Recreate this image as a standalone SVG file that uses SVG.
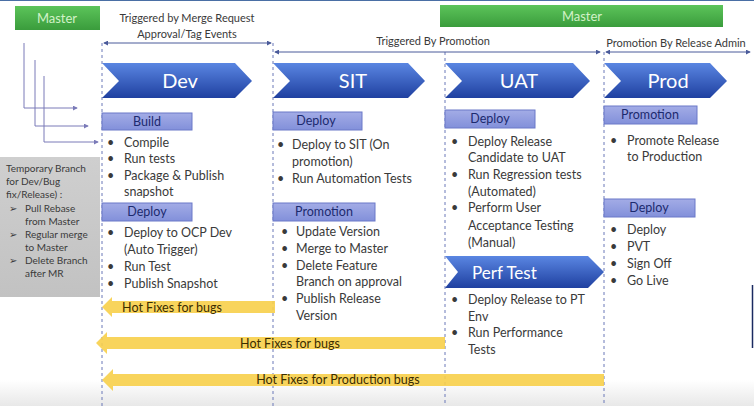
<svg xmlns="http://www.w3.org/2000/svg" width="754" height="406" viewBox="0 0 754 406">
<defs>
<linearGradient id="gBlue" x1="0" y1="0" x2="0" y2="1"><stop offset="0" stop-color="#5a86e2"/><stop offset="1" stop-color="#1f40a0"/></linearGradient>
<linearGradient id="gGreen" x1="0" y1="0" x2="0" y2="1"><stop offset="0" stop-color="#5cc45a"/><stop offset="1" stop-color="#3a9c3c"/></linearGradient>
<linearGradient id="gHead" x1="0" y1="0" x2="0" y2="1"><stop offset="0" stop-color="#a3ace6"/><stop offset="1" stop-color="#8290da"/></linearGradient>
<linearGradient id="gGrey" x1="0" y1="0" x2="0" y2="1"><stop offset="0" stop-color="#cfcfcf"/><stop offset="1" stop-color="#c2c2c2"/></linearGradient>
<linearGradient id="gBottom" x1="0" y1="0" x2="0" y2="1"><stop offset="0" stop-color="#ffffff"/><stop offset="1" stop-color="#e8e8e8"/></linearGradient>
<marker id="ah" viewBox="0 0 6 6" refX="5" refY="3" markerWidth="5" markerHeight="5" orient="auto-start-reverse"><path d="M0,0 L6,3 L0,6 z" fill="#4a5a9a"/></marker>
<marker id="ahp" viewBox="0 0 6 6" refX="5" refY="3" markerWidth="5" markerHeight="5" orient="auto"><path d="M0,0 L6,3 L0,6 z" fill="#7a7ab8"/></marker>
</defs>
<style>
text{font-family:Lato,"Liberation Sans",sans-serif;}
.t{font-size:12.5px;fill:#3a3a3a;}
.ts{font-size:10px;fill:#3a3a3a;}
.hd{font-size:12.5px;fill:#1c2a6e;text-anchor:middle;}
.hbox{fill:url(#gHead);stroke:#6a78c8;stroke-width:1;}
.chev{fill:url(#gBlue);}
.ct{font-size:20px;fill:#ffffff;text-anchor:middle;}
.vl{stroke:#6a78b8;stroke-width:1;stroke-dasharray:3,3;fill:none;}
.hl{stroke:#4a5a9a;stroke-width:1;fill:none;}
.pl{stroke:#7a7ab8;stroke-width:1;fill:none;}
.yarr{fill:#f7cf4a;opacity:0.9;}
.yt{font-size:12.5px;fill:#3a2c00;text-anchor:middle;}
.mt{font-size:13px;fill:#d2f2c8;text-anchor:middle;}
.top{font-size:11px;fill:#3a3a3a;text-anchor:middle;}
</style>
<rect x="0" y="0" width="754" height="406" fill="#ffffff"/>
<rect x="0" y="380" width="754" height="26" fill="url(#gBottom)"/>
<line x1="0" y1="0.5" x2="754" y2="0.5" stroke="#4a6fa5" stroke-width="1"/>
<line x1="752.5" y1="285" x2="752.5" y2="348" stroke="#1a2a60" stroke-width="1.5"/>

<g id="connectors">
<line class="vl" x1="102" y1="43" x2="102" y2="406"/>
<line class="vl" x1="273" y1="43" x2="273" y2="406"/>
<line class="vl" x1="445" y1="52" x2="445" y2="406"/>
<line class="vl" x1="604" y1="52" x2="604" y2="406"/>
<line class="hl" x1="104" y1="43" x2="271" y2="43" marker-start="url(#ah)" marker-end="url(#ah)"/>
<line class="hl" x1="275" y1="52" x2="600" y2="52" marker-start="url(#ah)" marker-end="url(#ah)"/>
<line class="hl" x1="606" y1="52" x2="750" y2="52" marker-start="url(#ah)" marker-end="url(#ah)"/>
<polyline class="pl" points="24,43 24,108 77,108" marker-end="url(#ahp)"/>
<polyline class="pl" points="35,60 35,126 88,126" marker-end="url(#ahp)"/>
<polyline class="pl" points="44,76 44,142 98,142" marker-end="url(#ahp)"/>
</g>

<g id="master-left">
<rect x="15" y="6" width="85" height="24" fill="url(#gGreen)"/>
<text class="mt" x="57" y="23">Master</text>
</g>
<g id="master-right">
<rect x="440" y="5" width="283" height="22" fill="url(#gGreen)"/>
<text class="mt" x="582" y="21">Master</text>
</g>
<g id="labels-top">
<text class="top" x="187" y="22">Triggered by Merge Request</text>
<text class="top" x="187" y="38">Approval/Tag Events</text>
<text class="top" x="433" y="45">Triggered By Promotion</text>
<text class="top" x="676" y="47">Promotion By Release Admin</text>
</g>

<g id="dev">
<path class="chev" d="M102,63 L235,63 L252,81 L235,98 L102,98 L119,81 Z"/>
<text class="ct" x="180" y="88">Dev</text>
<rect class="hbox" x="102" y="113" width="90" height="17"/>
<text class="hd" x="147" y="126">Build</text>
<g class="t">
<text x="107" y="147">•</text><text x="124" y="147">Compile</text>
<text x="107" y="163">•</text><text x="124" y="163">Run tests</text>
<text x="107" y="180">•</text><text x="124" y="180">Package &amp; Publish</text>
<text x="124" y="196">snapshot</text>
</g>
<rect class="hbox" x="102" y="203" width="90" height="18"/>
<text class="hd" x="147" y="216">Deploy</text>
<g class="t">
<text x="107" y="237">•</text><text x="124" y="237">Deploy to OCP Dev</text>
<text x="124" y="254">(Auto Trigger)</text>
<text x="107" y="271">•</text><text x="124" y="271">Run Test</text>
<text x="107" y="288">•</text><text x="124" y="288">Publish Snapshot</text>
</g>
</g>

<g id="sit">
<path class="chev" d="M273,63 L408,63 L425,81 L408,98 L273,98 L290,81 Z"/>
<text class="ct" x="353" y="88">SIT</text>
<rect class="hbox" x="273" y="112" width="89" height="18"/>
<text class="hd" x="316" y="125">Deploy</text>
<g class="t">
<text x="277" y="149">•</text><text x="292" y="149">Deploy to SIT (On</text>
<text x="292" y="166">promotion)</text>
<text x="277" y="183">•</text><text x="292" y="183">Run Automation Tests</text>
</g>
<rect class="hbox" x="273" y="203" width="102" height="18"/>
<text class="hd" x="324" y="216">Promotion</text>
<g class="t">
<text x="281" y="236">•</text><text x="296" y="236">Update Version</text>
<text x="281" y="253">•</text><text x="296" y="253">Merge to Master</text>
<text x="281" y="270">•</text><text x="296" y="270">Delete Feature</text>
<text x="296" y="286">Branch on approval</text>
<text x="281" y="303">•</text><text x="296" y="303">Publish Release</text>
<text x="296" y="320">Version</text>
</g>
</g>

<g id="uat">
<path class="chev" d="M445,63 L573,63 L590,81 L573,98 L445,98 L462,81 Z"/>
<text class="ct" x="519" y="88">UAT</text>
<rect class="hbox" x="445" y="110" width="90" height="18"/>
<text class="hd" x="490" y="123">Deploy</text>
<g class="t">
<text x="451" y="146">•</text><text x="468" y="146">Deploy Release</text>
<text x="468" y="162">Candidate to UAT</text>
<text x="451" y="179">•</text><text x="468" y="179">Run Regression tests</text>
<text x="468" y="196">(Automated)</text>
<text x="451" y="212">•</text><text x="468" y="212">Perform User</text>
<text x="468" y="230">Acceptance Testing</text>
<text x="468" y="247">(Manual)</text>
</g>
</g>

<g id="perf-test">
<path class="chev" d="M445,256 L588,256 L604,272 L588,288 L445,288 L458,272 Z"/>
<text x="472" y="279" style="font-size:17px;fill:#ffffff;">Perf Test</text>
<g class="t">
<text x="451" y="304">•</text><text x="468" y="304">Deploy Release to PT</text>
<text x="468" y="321">Env</text>
<text x="451" y="337">•</text><text x="468" y="337">Run Performance</text>
<text x="468" y="354">Tests</text>
</g>
</g>

<g id="prod">
<path class="chev" d="M604,63 L710,63 L727,81 L710,98 L604,98 L621,81 Z"/>
<text class="ct" x="668" y="88">Prod</text>
<rect class="hbox" x="604" y="106" width="93" height="18"/>
<text class="hd" x="650" y="119">Promotion</text>
<g class="t">
<text x="610" y="145">•</text><text x="627" y="145">Promote Release</text>
<text x="627" y="161">to Production</text>
</g>
<rect class="hbox" x="604" y="199" width="91" height="18"/>
<text class="hd" x="649" y="212">Deploy</text>
<g class="t">
<text x="610" y="234">•</text><text x="627" y="234">Deploy</text>
<text x="610" y="251">•</text><text x="627" y="251">PVT</text>
<text x="610" y="268">•</text><text x="627" y="268">Sign Off</text>
<text x="610" y="285">•</text><text x="627" y="285">Go Live</text>
</g>
</g>

<g id="temp-branch">
<rect x="0" y="157" width="100" height="140" fill="url(#gGrey)"/>
<g class="ts">
<text x="6" y="172">Temporary Branch</text>
<text x="6" y="185">for Dev/Bug</text>
<text x="6" y="198">fix/Release) :</text>
<text x="9" y="212">➢</text><text x="25" y="212">Pull Rebase</text>
<text x="25" y="225">from Master</text>
<text x="9" y="238">➢</text><text x="25" y="238">Regular merge</text>
<text x="25" y="251">to Master</text>
<text x="9" y="264">➢</text><text x="25" y="264">Delete Branch</text>
<text x="25" y="277">after MR</text>
</g>
</g>

<g id="hotfix-dev">
<path class="yarr" d="M102,307 L112,297 L112,301 L275,301 L275,313 L112,313 L112,317 Z"/>
<text class="yt" x="172" y="312">Hot Fixes for bugs</text>
</g>
<g id="hotfix-sit">
<path class="yarr" d="M96,343 L107,332 L107,337 L445,337 L445,349 L107,349 L107,354 Z"/>
<text class="yt" x="290" y="348">Hot Fixes for bugs</text>
</g>
<g id="hotfix-prod">
<path class="yarr" d="M102,380 L113,369 L113,374 L604,374 L604,386 L113,386 L113,391 Z"/>
<text class="yt" x="338" y="384">Hot Fixes for Production bugs</text>
</g>
</svg>
